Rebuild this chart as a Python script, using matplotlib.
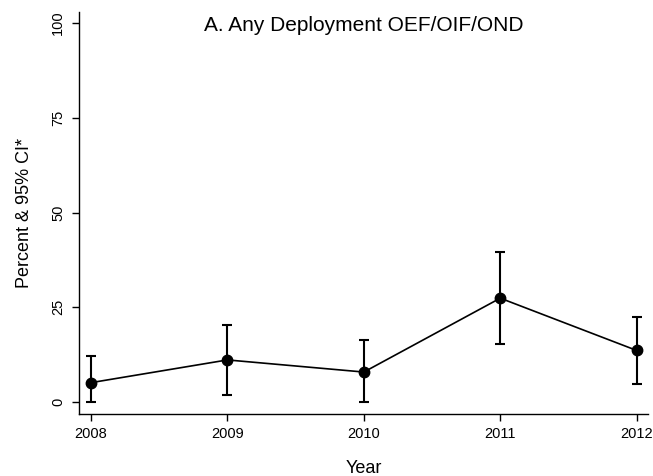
import numpy as np
import matplotlib.pyplot as plt

plt.rcParams['font.family'] = ['Liberation Sans', 'DejaVu Sans']

# values
years = [2008, 2009, 2010, 2011, 2012]
percent = [5.1, 11.1, 7.9, 27.4, 13.6]
ci_low = [0.0, 1.9, 0.0, 15.2, 4.8]
ci_high = [12.1, 20.2, 16.4, 39.7, 22.3]
y_ticks = [0, 25, 50, 75, 100]

fig = plt.figure(figsize=(6.53, 4.76), dpi=100)
ax = fig.add_axes([79/653, 1-414.3/476, (648-79)/653, (414.3-11.7)/476])

pct = np.array(percent)
yerr = np.array([pct-np.array(ci_low), np.array(ci_high)-pct])
ax.errorbar(years, pct, yerr=yerr, fmt='-o', color='black', ms=7.5,
            lw=1.2, elinewidth=1.5, capsize=3.8, capthick=1.5)

ax.set_xlim(2008-0.088, 2012+0.083)
ax.set_ylim(-3.25, 103)
ax.set_xticks(years)
ax.set_yticks(y_ticks)
ax.set_yticklabels([str(t) for t in y_ticks], rotation=90, va='center')
ax.tick_params(axis='both', direction='out', length=5, width=1, labelsize=10.5)
ax.tick_params(axis='y', pad=5)
ax.tick_params(axis='x', pad=4)

for s in ['top', 'right']:
    ax.spines[s].set_visible(False)
for s in ['left', 'bottom']:
    ax.spines[s].set_linewidth(1)

ax.set_ylabel('Percent & 95% CI*', fontsize=13, labelpad=13)
ax.set_xlabel('Year', fontsize=13, labelpad=14)
ax.text(0.5, 0.99, 'A. Any Deployment OEF/OIF/OND', transform=ax.transAxes,
        ha='center', va='top', fontsize=15)

fig.savefig('out.png', dpi=100)
